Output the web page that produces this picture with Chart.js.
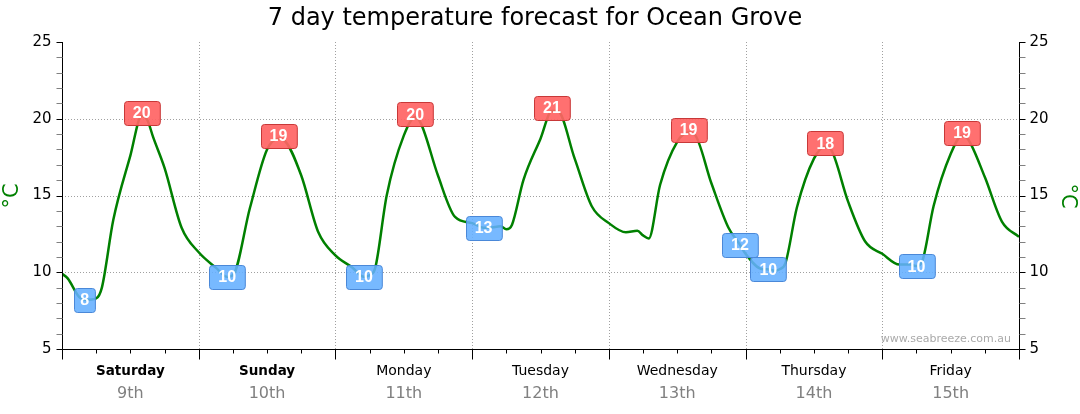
<!DOCTYPE html>
<html>
<head>
<meta charset="utf-8">
<script src="https://cdn.jsdelivr.net/npm/chart.js@4.4.0/dist/chart.umd.min.js"></script>
<style>
  html, body { margin: 0; background: #fff; }
  #wrap { width: 1080px; height: 414px; }
</style>
</head>
<body>
<div id="wrap"><canvas id="chart"></canvas></div>
<script>
// horas desde el sábado 00:00 y temperatura
const hours = [0,1,3,4,6,7,9,12,14,15,16,18,21,24,
  27,29,30,33,36,38,39,42,45,48,
  51,53,54,55,57,60,62,63,66,69,72,
  74,75,77,78,79,81,84,86,87,90,93,96,
  99,101,102,103,105,108,110,111,114,117,119,120,
  123,124,125,126,127,129,132,134,135,138,141,144,
  147,149,150,151,153,156,158,159,162,165,168];
const temps = [9.9,9.6,8.4,8.2,8.3,9.0,13.4,17.6,20.2,19.9,18.8,16.8,12.9,11.3,
  10.3,9.7,9.8,14.2,18.0,18.7,18.6,16.3,12.6,11.1,
  10.3,9.7,9.8,10.3,15.0,18.9,20.1,19.7,16.3,13.6,13.2,
  12.9,12.9,13.0,12.8,13.1,16.0,18.7,20.5,20.5,17.4,14.3,13.2,
  12.6,12.7,12.4,12.2,15.7,18.5,19.1,19.0,15.8,12.9,11.8,11.2,
  10.2,10.2,10.1,10.2,10.6,14.2,17.4,18.2,18.0,14.6,12.0,11.2,
  10.5,10.5,10.4,10.7,14.3,17.7,18.9,18.7,16.2,13.3,12.3];

const dayNames = ['Saturday','Sunday','Monday','Tuesday','Wednesday','Thursday','Friday'];
const dayDates = ['9th','10th','11th','12th','13th','14th','15th'];
const weekend = [true,true,false,false,false,false,false];
const yTicks = [5,10,15,20,25];

// máximas y mínimas con su etiqueta
const highHours = [14,38,62,86,110,134,158];
const highLabels = ['20','19','20','21','19','18','19'];
const lowHours = [4,29,53,74,119,124,150];
const lowLabels = ['8','10','10','13','12','10','10'];

function box(ctx, px, py, text, fill, stroke) {
  ctx.font = 'bold 16px "Liberation Sans", Arial, sans-serif';
  const tw = ctx.measureText(text).width;
  const w = tw + (text.length > 1 ? 18 : 12);
  const h = 24;
  ctx.beginPath();
  ctx.roundRect(Math.round(px - w / 2) + 0.5, Math.round(py - h / 2) + 0.5, w, h, 3);
  ctx.fillStyle = fill;
  ctx.fill();
  ctx.strokeStyle = stroke;
  ctx.lineWidth = 1;
  ctx.stroke();
  ctx.fillStyle = '#fff';
  ctx.textAlign = 'center';
  ctx.textBaseline = 'middle';
  ctx.fillText(text, px, py + 1);
}

const deco = {
  id: 'deco',
  beforeDatasetsDraw(chart) {
    const { ctx, chartArea: a, scales: { x, y } } = chart;
    ctx.save();
    ctx.strokeStyle = '#a0a0a0';
    ctx.lineWidth = 1;
    ctx.setLineDash([1, 2]);
    for (let d = 1; d < 7; d++) {
      const px = Math.round(x.getPixelForValue(d * 24)) + 0.5;
      ctx.beginPath(); ctx.moveTo(px, a.top); ctx.lineTo(px, a.bottom); ctx.stroke();
    }
    for (const v of yTicks.slice(1, -1)) {
      const py = Math.round(y.getPixelForValue(v)) + 0.5;
      ctx.beginPath(); ctx.moveTo(a.left, py); ctx.lineTo(a.right, py); ctx.stroke();
    }
    ctx.restore();
  },
  afterDatasetsDraw(chart) {
    const { ctx, scales: { x, y } } = chart;
    ctx.save();
    highHours.forEach((hr, i) => {
      const t = temps[hours.indexOf(hr)];
      box(ctx, x.getPixelForValue(hr), y.getPixelForValue(t) - 3, highLabels[i], 'rgba(255,100,100,0.92)', '#c83838');
    });
    lowHours.forEach((hr, i) => {
      const t = temps[hours.indexOf(hr)];
      box(ctx, x.getPixelForValue(hr), y.getPixelForValue(t), lowLabels[i], 'rgba(100,175,255,0.88)', '#4a88d8');
    });
    ctx.restore();
  },
  afterDraw(chart) {
    const { ctx, chartArea: a, scales: { x, y } } = chart;
    const L = Math.round(a.left) + 0.5, R = Math.round(a.right) + 0.5, B = Math.round(a.bottom) + 0.5;
    ctx.save();
    // ejes
    ctx.strokeStyle = '#000';
    ctx.lineWidth = 1;
    ctx.beginPath();
    ctx.moveTo(L, a.top); ctx.lineTo(L, B); ctx.lineTo(R, B); ctx.lineTo(R, a.top);
    ctx.stroke();
    // marcas del eje y
    for (let v = 5; v <= 25; v++) {
      const py = Math.round(y.getPixelForValue(v)) + 0.5;
      ctx.strokeStyle = v % 5 === 0 ? '#000' : '#808080';
      ctx.beginPath();
      ctx.moveTo(L - 6, py); ctx.lineTo(L, py);
      ctx.moveTo(R, py); ctx.lineTo(R + 6, py);
      ctx.stroke();
    }
    // marcas del eje x
    ctx.strokeStyle = '#000';
    for (let hr = 0; hr <= 168; hr += 6) {
      const px = Math.round(x.getPixelForValue(hr)) + 0.5;
      ctx.beginPath(); ctx.moveTo(px, B); ctx.lineTo(px, B + (hr % 24 === 0 ? 10 : 4)); ctx.stroke();
    }
    // etiquetas del eje y
    ctx.fillStyle = '#000';
    ctx.font = '15px "DejaVu Sans", sans-serif';
    ctx.textBaseline = 'middle';
    for (const v of yTicks) {
      const py = y.getPixelForValue(v);
      ctx.textAlign = 'right'; ctx.fillText(String(v), L - 11, py);
      ctx.textAlign = 'left'; ctx.fillText(String(v), R + 10, py);
    }
    // días
    ctx.textAlign = 'center';
    dayNames.forEach((d, i) => {
      const px = x.getPixelForValue(i * 24 + 12);
      ctx.fillStyle = '#000';
      ctx.font = (weekend[i] ? 'bold 13.5px' : '14px') + ' "DejaVu Sans", sans-serif';
      ctx.fillText(d, px, 371);
      ctx.fillStyle = '#808080';
      ctx.font = '16px "DejaVu Sans", sans-serif';
      ctx.fillText(dayDates[i], px, 394);
    });
    // títulos de los ejes
    ctx.fillStyle = '#008000';
    ctx.font = '21px "DejaVu Sans", sans-serif';
    ctx.save(); ctx.translate(13, 196); ctx.rotate(-Math.PI / 2); ctx.fillText('°C', 0, 0); ctx.restore();
    ctx.save(); ctx.translate(1067, 196); ctx.rotate(Math.PI / 2); ctx.fillText('°C', 0, 0); ctx.restore();
    // título
    ctx.fillStyle = '#000';
    ctx.font = '24px "DejaVu Sans", sans-serif';
    ctx.fillText('7 day temperature forecast for Ocean Grove', 535, 19);
    // marca de agua
    ctx.fillStyle = '#aaaaaa';
    ctx.font = '11px "DejaVu Sans", sans-serif';
    ctx.textAlign = 'right';
    ctx.fillText('www.seabreeze.com.au', 1011, 339);
    ctx.restore();
  }
};

const ctx = document.getElementById('chart').getContext('2d');
new Chart(ctx, {
  type: 'line',
  data: {
    datasets: [{
      data: hours.map((h, i) => ({ x: h, y: temps[i] })),
      borderColor: '#008000',
      borderWidth: 2.5,
      pointRadius: 0,
      cubicInterpolationMode: 'monotone',
      fill: false
    }]
  },
  options: {
    responsive: true,
    maintainAspectRatio: false,
    animation: false,
    layout: { padding: { left: 62, right: 61, top: 42, bottom: 65 } },
    plugins: { legend: { display: false }, tooltip: { enabled: false } },
    scales: {
      x: { type: 'linear', min: 0, max: 168, display: false },
      y: { min: 5, max: 25, display: false }
    }
  },
  plugins: [deco]
});
</script>
</body>
</html>
